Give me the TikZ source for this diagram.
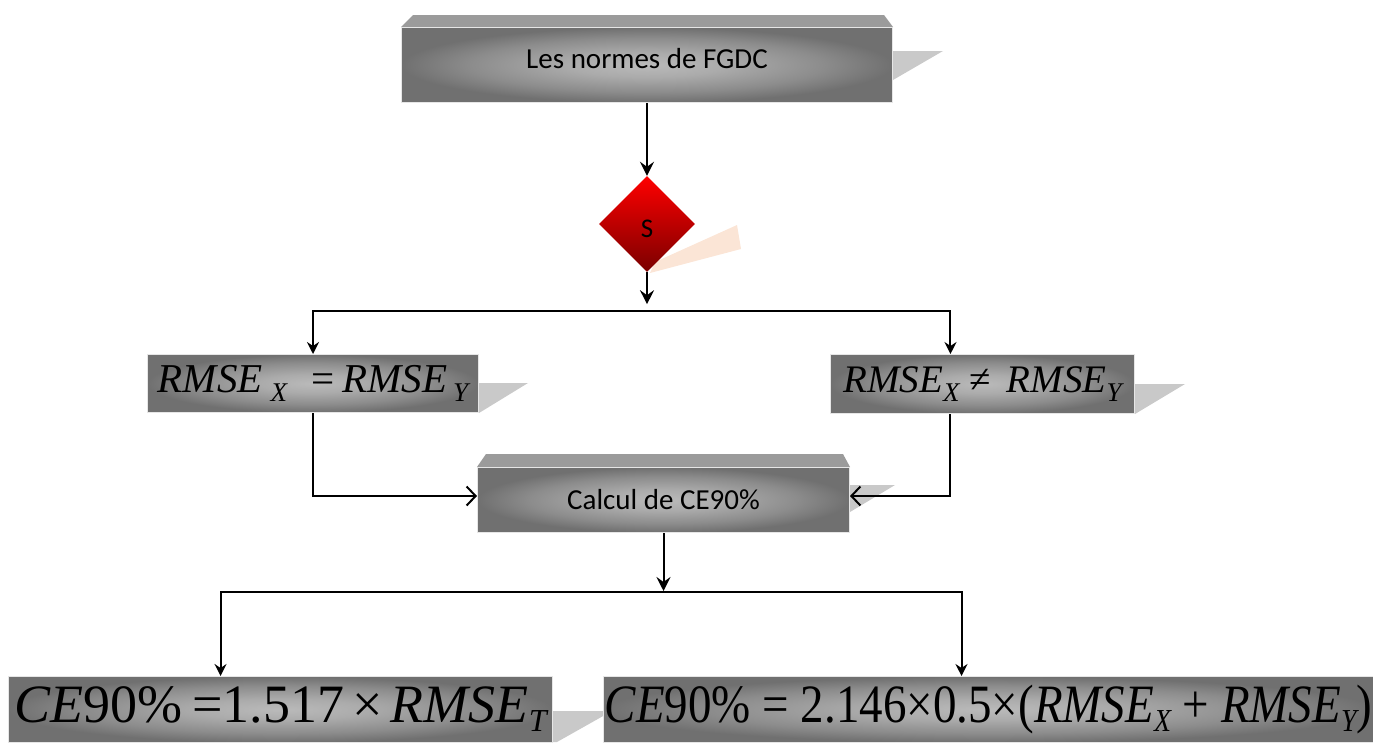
\documentclass[tikz,border=0pt]{standalone}
\usepackage{fontspec}
\setmainfont{Liberation Serif}
\newfontfamily\calib{Carlito}
\usetikzlibrary{arrows.meta,shapes.geometric,backgrounds,calc}
\definecolor{pin}{HTML}{BABABA}
\definecolor{pin2}{HTML}{ABABAB}
\definecolor{pmid}{HTML}{8C8C8C}
\definecolor{pout}{HTML}{707070}
\definecolor{bevelgray}{HTML}{9B9B9B}
\definecolor{shadowgray}{HTML}{C9C9C9}
\definecolor{rimgray}{HTML}{E6E6E6}
\definecolor{peach}{HTML}{FBE5D6}
\definecolor{rtop}{HTML}{FF0000}
\definecolor{rbot}{HTML}{7A0000}
\pgfdeclareradialshading{pillow}{\pgfpoint{0bp}{0bp}}{color(0bp)=(pin); color(8bp)=(pin2); color(18bp)=(pmid); color(25bp)=(pout); color(50bp)=(pout)}
\newcommand\lowr[3]{\raisebox{#2}{\fontsize{#1}{#1}\selectfont\itshape #3}}
\tikzset{
  face/.style={rectangle, shade, shading=pillow, draw=rimgray, line width=1pt, inner sep=0pt, anchor=north west},
  bevel/.style={fill=bevelgray},
  shadowpoly/.style={fill=shadowgray},
  conn/.style={line width=2pt, black},
  arr/.style={conn, -{Stealth[length=14pt,width=14pt,inset=5pt]}},
  darrs/.style={conn, {Stealth[length=12pt,width=12pt,inset=4pt]}-{Stealth[length=12pt,width=12pt,inset=4pt]}},
  barb/.style={conn, -{Straight Barb[length=9pt,width=19pt]}},
  sanslabel/.style={font=\calib\fontsize{29}{29}\selectfont},
}
\begin{document}
\begin{tikzpicture}[x=1pt,y=-1pt]
\useasboundingbox (0,0) rectangle (1373,742);

% boxes
\node[face, minimum width=491pt, minimum height=75pt, sanslabel] (fgdc) at (401,27) {\raisebox{-3pt}[0pt][0pt]{Les normes de FGDC}};
\node[diamond, aspect=1, minimum width=96pt, minimum height=96pt, inner sep=0pt,
      top color=rtop, bottom color=rbot, font=\calib\fontsize{27}{27}\selectfont] (s) at (647,224) {\raisebox{-13pt}[0pt][0pt]{S}};
\node[face, minimum width=331pt, minimum height=58pt] (lb) at (147,354)
  {\fontsize{41}{41}\selectfont\itshape RMSE\hspace{8pt}\lowr{27}{-9pt}{X}\hspace{24pt}\upshape=\hspace{8pt}\itshape RMSE\hspace{6pt}\lowr{27}{-9pt}{Y}};
\node[face, minimum width=304pt, minimum height=59pt] (rb) at (830,354)
  {\fontsize{39}{39}\selectfont\itshape RMSE\lowr{27}{-9pt}{X}\hspace{10pt}\upshape≠\hspace{16pt}\itshape RMSE\lowr{27}{-9pt}{Y}};
\node[face, minimum width=372pt, minimum height=65pt, sanslabel] (cb) at (477,467) {Calcul de CE90\%};
\node[face, minimum width=544pt, minimum height=66pt] (bl) at (8,676)
  {\fontsize{54}{54}\selectfont\itshape CE\upshape90\%\hspace{10pt}=1.517\hspace{8pt}×\hspace{8pt}\itshape RMSE\lowr{32}{-9pt}{T}};
\node[face, minimum width=770pt, minimum height=66pt] (br) at (603,676)
  {\scalebox{0.87}[1]{\fontsize{54}{54}\selectfont\itshape CE\upshape90\% = 2.146×0.5×(\itshape RMSE\lowr{32}{-9pt}{X}\upshape\ + \itshape RMSE\lowr{32}{-9pt}{Y}\upshape)}};

% bevels and shadows
\begin{scope}[on background layer]
  \fill[bevel] (fgdc.north west) -- ++(12,-12) -- ($(fgdc.north east)+(-9,-12)$) -- (fgdc.north east) -- cycle;
  \fill[shadowpoly] (fgdc.north east |- 0,51) -- (943,51) -- (fgdc.east |- 0,80) -- cycle;
  \fill[peach] (655,262) -- (737,225) -- (741,249) -- (650,273) -- cycle;
  \fill[shadowpoly] (lb.east |- 0,383) -- (528,383) -- (lb.south east) -- cycle;
  \fill[shadowpoly] (rb.east |- 0,384) -- (1185,384) -- (rb.south east) -- cycle;
  \fill[bevel] (cb.north west) -- ++(9,-13) -- ($(cb.north east)+(-7,-13)$) -- (cb.north east) -- cycle;
  \fill[shadowpoly] (cb.east |- 0,485) -- (895,485) -- (cb.east |- 0,512) -- cycle;
  \fill[shadowpoly] (bl.east |- 0,711) -- (612,711) -- (557,742) -- (bl.east |- 0,742) -- cycle;
\end{scope}

% connector helper points
\coordinate (split1) at (647,311);
\coordinate (rbtop) at ($(rb.north west)!0.395!(rb.north east)$);
\coordinate (rbbot) at ($(rb.south west)!0.395!(rb.south east)$);
\coordinate (split2) at (663,592);
\coordinate (blin) at ($(bl.north west)!0.39!(bl.north east)$);
\coordinate (brin) at ($(br.north west)!0.465!(br.north east)$);

% connectors
\draw[arr] (fgdc.south) -- (s.north);
\draw[arr] (s.south) -- ++(0,32) coordinate (send);
\draw[darrs] (lb.north) -- (lb.north |- split1) -- (rbtop |- split1) -- (rbtop);
\draw[barb] (lb.south) -- (lb.south |- 0,496) -- (cb.west |- 0,496);
\draw[barb] (rbbot) -- (rbbot |- 0,496) -- (cb.east |- 0,496);
\draw[arr] (cb.south) -- ++(0,58) coordinate (cend);
\draw[darrs] (blin) -- (blin |- split2) -- (brin |- split2) -- (brin);
\end{tikzpicture}
\end{document}
